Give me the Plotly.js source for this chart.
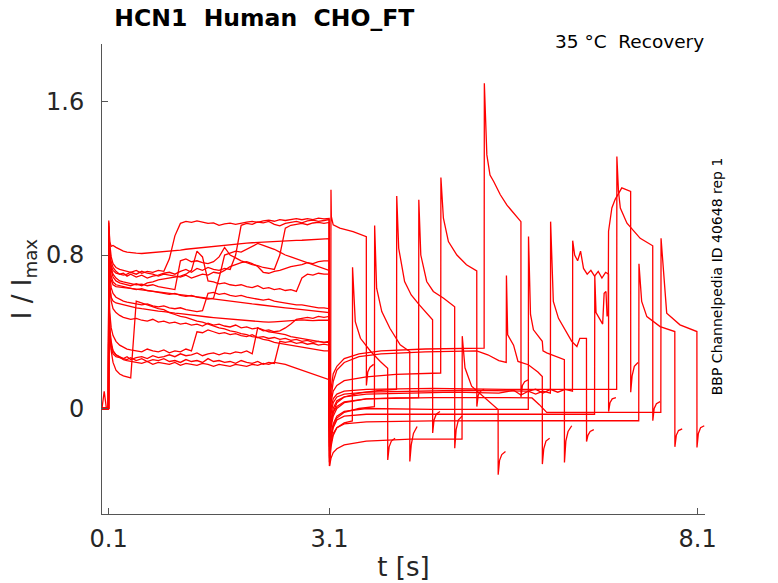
<!DOCTYPE html>
<html>
<head>
<meta charset="utf-8">
<script src="https://cdn.plot.ly/plotly-3.0.1.min.js"></script>
<style>body{margin:0;background:#fff}#plot{width:778px;height:583px}</style>
</head>
<body>
<div id="plot"></div>
<script>
// ---- shared time grid for the first (activation) pulse, seconds ----
const tA = [
 0.01,0.04,0.07,0.098,0.102,0.115,0.135,0.16,0.2,0.25,
 0.3,0.35,0.4,0.475,0.55,0.625,0.7,0.775,0.85,0.925,
 1.0,1.075,1.15,1.225,1.3,1.375,1.45,1.525,1.6,1.675,
 1.75,1.825,1.9,1.975,2.05,2.125,2.2,2.275,2.35,2.425,
 2.5,2.575,2.65,2.725,2.8,2.875,2.95,3.025,3.095];

// ---- normalised current during first pulse, one array per sweep ----
const a0 = [
 0,0,0.005,0,0.97,0.86,0.79,0.755,0.735,0.725,
 0.72,0.715,0.71,0.72,0.705,0.715,0.71,0.72,0.715,0.78,
 0.9,0.965,0.975,0.97,0.978,0.972,0.965,0.968,0.955,0.962,
 0.966,0.96,0.968,0.972,0.975,0.97,0.978,0.982,0.976,0.984,
 0.98,0.986,0.99,0.984,0.99,0.985,0.992,0.988,0.99];
const a1 = [
 0,0,0,0,0.68,0.4,0.33,0.3,0.28,0.265,
 0.255,0.25,0.245,0.24,0.235,0.245,0.23,0.24,0.235,0.23,
 0.24,0.225,0.235,0.23,0.225,0.235,0.23,0.22,0.23,0.225,
 0.22,0.23,0.225,0.22,0.23,0.225,0.235,0.23,0.24,0.235,
 0.23,0.22,0.21,0.2,0.19,0.18,0.17,0.16,0.15];
const a2 = [
 0,0,0,0,0.84,0.72,0.67,0.645,0.635,0.632,
 0.63,0.628,0.625,0.622,0.618,0.615,0.612,0.608,0.605,0.602,
 0.598,0.594,0.59,0.586,0.582,0.578,0.574,0.57,0.566,0.562,
 0.558,0.555,0.552,0.548,0.545,0.542,0.538,0.535,0.532,0.528,
 0.525,0.522,0.519,0.516,0.513,0.51,0.507,0.504,0.5];
const a3 = [
 0,0,0,0,0.95,0.83,0.765,0.735,0.715,0.7,
 0.705,0.69,0.7,0.685,0.695,0.68,0.69,0.695,0.705,0.71,
 0.7,0.715,0.725,0.71,0.73,0.72,0.735,0.725,0.72,0.73,
 0.725,0.8,0.955,0.965,0.96,0.972,0.968,0.975,0.96,0.952,
 0.965,0.97,0.975,0.968,0.978,0.982,0.975,0.98,0.985];
const a4 = [
 0,0,0,0,0.75,0.5,0.42,0.38,0.35,0.33,
 0.32,0.31,0.305,0.3,0.295,0.31,0.3,0.295,0.305,0.29,
 0.3,0.295,0.31,0.3,0.4,0.395,0.41,0.4,0.39,0.395,
 0.385,0.39,0.38,0.375,0.385,0.37,0.375,0.365,0.37,0.36,
 0.365,0.355,0.36,0.35,0.355,0.345,0.35,0.345,0.35];
const a5 = [
 0,0,0,0,0.88,0.78,0.74,0.72,0.705,0.7,
 0.695,0.7,0.71,0.7,0.715,0.705,0.7,0.69,0.7,0.695,
 0.69,0.685,0.695,0.68,0.69,0.7,0.695,0.71,0.705,0.72,
 0.74,0.75,0.76,0.765,0.755,0.74,0.71,0.705,0.715,0.72,
 0.73,0.74,0.745,0.75,0.76,0.755,0.765,0.77,0.77];
const a6 = [
 0,0.09,0,0,0.8,0.65,0.56,0.52,0.5,0.485,
 0.475,0.47,0.465,0.47,0.46,0.455,0.465,0.45,0.455,0.445,
 0.45,0.44,0.445,0.435,0.44,0.43,0.445,0.435,0.44,0.43,
 0.425,0.435,0.42,0.425,0.415,0.42,0.405,0.41,0.4,0.405,
 0.42,0.44,0.465,0.47,0.475,0.47,0.48,0.475,0.48];
const a7 = [
 0,0,0,0,0.98,0.87,0.845,0.85,0.84,0.83,
 0.82,0.815,0.812,0.81,0.808,0.81,0.812,0.815,0.818,0.82,
 0.822,0.826,0.83,0.833,0.836,0.84,0.843,0.846,0.85,0.852,
 0.855,0.857,0.86,0.862,0.864,0.866,0.868,0.869,0.87,0.872,
 0.873,0.874,0.876,0.877,0.878,0.879,0.881,0.883,0.885];
const a8 = [
 0,0,0,0,0.7,0.42,0.35,0.3,0.28,0.27,
 0.26,0.255,0.265,0.25,0.26,0.245,0.255,0.25,0.26,0.245,
 0.25,0.24,0.255,0.245,0.25,0.24,0.26,0.245,0.25,0.24,
 0.245,0.235,0.25,0.24,0.235,0.245,0.23,0.24,0.235,0.35,
 0.345,0.35,0.34,0.345,0.335,0.34,0.33,0.335,0.33];
const a9 = [
 0,0,0,0,0.86,0.75,0.69,0.66,0.645,0.64,
 0.635,0.63,0.625,0.62,0.625,0.615,0.61,0.605,0.6,0.595,
 0.6,0.59,0.585,0.59,0.58,0.575,0.57,0.575,0.68,0.8,
 0.81,0.82,0.815,0.83,0.845,0.86,0.85,0.84,0.83,0.815,
 0.8,0.79,0.78,0.77,0.76,0.75,0.74,0.73,0.72];
const a10 = [
 0,0,0,0,0.78,0.64,0.58,0.56,0.55,0.545,
 0.54,0.535,0.53,0.525,0.52,0.515,0.512,0.508,0.505,0.5,
 0.497,0.494,0.49,0.487,0.484,0.48,0.477,0.474,0.471,0.468,
 0.465,0.462,0.46,0.458,0.456,0.454,0.452,0.45,0.452,0.454,
 0.456,0.458,0.46,0.462,0.46,0.458,0.46,0.462,0.46];
const a11 = [
 0,0,0,0,0.9,0.79,0.73,0.7,0.68,0.665,
 0.66,0.655,0.65,0.645,0.648,0.64,0.645,0.635,0.63,0.625,
 0.62,0.77,0.78,0.765,0.77,0.76,0.755,0.765,0.79,0.84,
 0.8,0.785,0.77,0.76,0.75,0.745,0.735,0.73,0.725,0.8,
 0.94,0.955,0.96,0.965,0.958,0.967,0.97,0.965,0.97];
const a12 = [
 0,0,0,0,0.82,0.7,0.63,0.6,0.58,0.57,
 0.56,0.555,0.55,0.545,0.54,0.545,0.535,0.53,0.535,0.525,
 0.52,0.525,0.515,0.51,0.505,0.51,0.6,0.605,0.595,0.6,
 0.59,0.585,0.59,0.58,0.575,0.57,0.565,0.57,0.56,0.555,
 0.55,0.545,0.54,0.54,0.535,0.53,0.525,0.525,0.52];
const a13 = [
 0,0,0,0,0.92,0.8,0.72,0.685,0.665,0.655,
 0.65,0.645,0.64,0.65,0.64,0.655,0.66,0.67,0.675,0.68,
 0.685,0.69,0.7,0.72,0.82,0.79,0.665,0.66,0.65,0.655,
 0.645,0.64,0.645,0.635,0.63,0.64,0.625,0.63,0.62,0.625,
 0.615,0.62,0.61,0.68,0.7,0.695,0.705,0.7,0.7];
const a14 = [
 0,0,0,0,0.72,0.4,0.3,0.24,0.2,0.18,
 0.17,0.165,0.16,0.56,0.55,0.54,0.53,0.52,0.515,0.5,
 0.49,0.48,0.475,0.465,0.455,0.45,0.44,0.43,0.42,0.415,
 0.405,0.4,0.39,0.385,0.375,0.37,0.36,0.355,0.345,0.34,
 0.335,0.33,0.325,0.32,0.315,0.31,0.305,0.3,0.3];
const a15 = [
 0,0,0,0,0.7,0.38,0.31,0.285,0.27,0.265,
 0.26,0.27,0.255,0.265,0.27,0.26,0.275,0.265,0.27,0.28,
 0.27,0.285,0.275,0.28,0.29,0.275,0.285,0.29,0.28,0.29,
 0.285,0.295,0.29,0.3,0.285,0.42,0.41,0.4,0.395,0.39,
 0.385,0.375,0.37,0.365,0.36,0.355,0.35,0.345,0.345];

// ---- recovery interval, test pulse and tail: times (s) and values ----
const rt0 = [3.1,3.115,3.12,3.125,3.15,3.24,3.42,3.6,3.601,3.62,3.65,3.7];
const ry0 = [-0.1,-0.05,1.14,1.0,0.957,0.94,0.922,0.896,0.12,0.19,0.215,0.23];
const rt1 = [3.1,3.12,3.15,3.2,3.3,3.41,3.413,3.45,3.52,3.66,3.79,3.89,3.891,3.91,3.94,3.99];
const ry1 = [-0.3,-0.2,-0.14,-0.1,-0.075,-0.065,0.736,0.453,0.366,0.297,0.245,0.21,-0.268,-0.2,-0.17,-0.155];
const rt2 = [3.1,3.12,3.15,3.2,3.3,3.5,3.71,3.713,3.74,3.81,3.92,4.06,4.19,4.191,4.21,4.24,4.29];
const ry2 = [-0.25,-0.15,-0.09,-0.05,-0.02,0.0,0.01,0.954,0.627,0.505,0.418,0.332,0.297,-0.276,-0.19,-0.13,-0.094];
const rt3 = [3.1,3.12,3.15,3.2,3.3,3.5,3.8,4.01,4.013,4.04,4.12,4.21,4.32,4.5,4.501,4.52,4.55,4.6];
const ry3 = [-0.2,-0.08,-0.02,0.03,0.06,0.08,0.095,0.1,1.108,0.835,0.662,0.592,0.54,0.462,-0.128,-0.06,-0.03,-0.016];
const rt4 = [3.1,3.12,3.15,3.2,3.3,3.6,4.0,4.31,4.313,4.34,4.42,4.51,4.65,4.8,4.801,4.82,4.85,4.9];
const ry4 = [-0.22,-0.1,-0.04,0.0,0.03,0.05,0.055,0.057,1.088,0.8,0.662,0.61,0.575,0.53,-0.207,-0.11,-0.06,-0.04];
const rt5 = [3.1,3.12,3.15,3.2,3.3,3.6,4.0,4.61,4.613,4.647,4.715,4.83,4.96,5.1,5.101,5.12,5.15,5.2];
const ry5 = [-0.1,0.03,0.09,0.12,0.145,0.165,0.178,0.185,1.204,0.992,0.87,0.8,0.749,0.717,0.01,0.07,0.09,0.1];
const rt6 = [3.1,3.12,3.15,3.2,3.3,3.6,4.2,4.9,4.903,4.94,5.03,5.21,5.39,5.391,5.41,5.44,5.49];
const ry6 = [-0.3,-0.26,-0.23,-0.21,-0.19,-0.17,-0.16,-0.16,0.377,0.212,0.116,0.055,-0.005,-0.345,-0.27,-0.24,-0.224];
const rt7 = [3.1,3.12,3.15,3.2,3.3,3.5,3.8,4.4,5.2,5.203,5.237,5.28,5.33,5.42,5.51,5.67,5.7,5.701,5.72,5.75,5.8];
const ry7 = [-0.05,0.1,0.18,0.22,0.26,0.285,0.3,0.31,0.315,1.695,1.322,1.217,1.183,1.114,1.06,0.983,0.974,0.06,0.12,0.14,0.15];
const rt8 = [3.1,3.12,3.15,3.2,3.3,3.5,3.8,4.4,5.1,5.25,5.4,5.5,5.503,5.52,5.6,5.66,5.8,5.93,5.99,5.991,6.01,6.04,6.09];
const ry8 = [-0.12,0.05,0.14,0.2,0.24,0.27,0.285,0.295,0.3,0.28,0.25,0.24,0.693,0.384,0.33,0.245,0.228,0.19,0.167,-0.29,-0.21,-0.17,-0.155];
const rt9 = [3.1,3.12,3.15,3.2,3.3,3.6,4.5,5.8,5.803,5.83,5.87,5.99,6.0,6.05,6.29,6.291,6.31,6.34,6.39];
const ry9 = [-0.26,-0.14,-0.08,-0.04,-0.015,0.0,-0.005,-0.005,0.896,0.49,0.41,0.35,0.3,0.29,0.254,-0.281,-0.17,-0.12,-0.09];
const rt10 = [3.1,3.12,3.15,3.2,3.3,3.6,4.2,4.8,5.4,5.6,5.7,5.8,5.9,6.0,6.1,6.103,6.14,6.21,6.39,6.46,6.5,6.59,6.591,6.61,6.64,6.69];
const ry10 = [-0.18,-0.06,0.0,0.04,0.06,0.075,0.08,0.085,0.08,0.095,0.07,0.09,0.075,0.09,0.08,0.974,0.558,0.47,0.35,0.323,0.366,0.366,-0.172,-0.14,-0.12,-0.11];
const rt11 = [3.1,3.12,3.15,3.2,3.3,3.6,4.2,5.0,5.8,5.9,6.0,6.1,6.2,6.3,6.4,6.403,6.43,6.47,6.51,6.55,6.6,6.65,6.7,6.75,6.8,6.85,6.89,6.891,6.91,6.94,6.99];
const ry11 = [-0.15,-0.03,0.03,0.06,0.075,0.085,0.09,0.095,0.09,0.1,0.08,0.1,0.085,0.1,0.09,0.875,0.8,0.77,0.82,0.73,0.7,0.72,0.69,0.715,0.68,0.71,0.7,-0.016,0.03,0.05,0.057];
const rt12 = [3.1,3.12,3.15,3.2,3.3,3.6,4.5,5.5,6.7,6.703,6.72,6.81,6.83,6.855,6.87,6.885,6.89,6.935,6.98,7.07,7.13,7.19,7.191,7.21,7.24,7.29];
const ry12 = [-0.28,-0.16,-0.1,-0.06,-0.04,-0.03,-0.03,-0.03,-0.03,0.69,0.5,0.44,0.6,0.61,0.48,0.5,0.924,1.045,1.09,1.15,1.14,1.132,0.085,0.17,0.22,0.24];
const rt13 = [3.1,3.12,3.15,3.2,3.3,3.6,4.5,5.5,6.3,7.0,7.003,7.025,7.05,7.14,7.32,7.49,7.491,7.51,7.54,7.59];
const ry13 = [-0.12,0.0,0.05,0.075,0.09,0.1,0.105,0.1,0.1,0.1,1.313,1.132,1.045,0.966,0.887,0.848,-0.064,0.0,0.025,0.036];
const rt14 = [3.1,3.12,3.15,3.2,3.3,3.6,4.5,5.5,6.5,7.3,7.303,7.34,7.41,7.59,7.79,7.791,7.81,7.84,7.89];
const ry14 = [-0.28,-0.18,-0.13,-0.1,-0.08,-0.07,-0.065,-0.064,-0.064,-0.064,0.754,0.558,0.479,0.427,0.401,-0.2,-0.14,-0.115,-0.106];
const rt15 = [3.1,3.12,3.15,3.2,3.3,3.6,4.5,5.5,5.85,5.95,6.05,6.8,7.6,7.603,7.68,7.86,8.09,8.091,8.11,8.14,8.19];
const ry15 = [-0.2,-0.08,-0.02,0.01,0.035,0.05,0.057,0.057,0.055,0.02,-0.02,-0.02,-0.02,0.887,0.497,0.436,0.401,-0.203,-0.13,-0.1,-0.09];

const xTicks = [0.1, 3.1, 8.1];
const xTickText = ['0.1', '3.1', '8.1'];
const yTicks = [0, 0.8, 1.6];
const yTickText = ['0', '0.8', '1.6'];

const firstPulse = [a0,a1,a2,a3,a4,a5,a6,a7,a8,a9,a10,a11,a12,a13,a14,a15];
const recT = [rt0,rt1,rt2,rt3,rt4,rt5,rt6,rt7,rt8,rt9,rt10,rt11,rt12,rt13,rt14,rt15];
const recY = [ry0,ry1,ry2,ry3,ry4,ry5,ry6,ry7,ry8,ry9,ry10,ry11,ry12,ry13,ry14,ry15];

const traces = firstPulse.map((a, k) => ({
  type: 'scatter', mode: 'lines',
  x: tA.concat(recT[k]), y: a.concat(recY[k]),
  line: {color: '#ff0000', width: 1.3},
  hoverinfo: 'skip', showlegend: false
}));

const FONT = 'DejaVu Sans, Liberation Sans, sans-serif';
const layout = {
  width: 778, height: 583,
  margin: {l: 102, r: 73, t: 44, b: 69},
  paper_bgcolor: '#ffffff', plot_bgcolor: '#ffffff',
  font: {family: FONT, color: '#262626'},
  title: {text: '<b>HCN1\u00a0\u00a0Human\u00a0\u00a0CHO_FT</b>', font: {family: FONT, size: 23.5, color: '#000000'},
          x: 0.147, xanchor: 'left', xref: 'container', y: 0.969, yanchor: 'middle', yref: 'container'},
  xaxis: {range: [0.01, 8.2], tickvals: xTicks, ticktext: xTickText, ticks: 'inside', ticklen: 6,
          tickcolor: '#555', showline: true, linecolor: '#555', linewidth: 1, showgrid: false, zeroline: false,
          tickfont: {family: FONT, size: 24, color: '#262626'}, ticklabelstandoff: 3,
          title: {text: 't [s]', font: {family: FONT, size: 26, color: '#262626'}, standoff: 6}},
  yaxis: {range: [-0.55, 1.9], tickvals: yTicks, ticktext: yTickText, ticks: 'inside', ticklen: 6,
          tickcolor: '#555', showline: true, linecolor: '#555', linewidth: 1, showgrid: false, zeroline: false,
          tickfont: {family: FONT, size: 24, color: '#262626'}, ticklabelstandoff: 12,
          title: {text: 'I / I<sub>max</sub>', font: {family: FONT, size: 26, color: '#262626'}, standoff: 6}},
  annotations: [
    {text: '35 \u00b0C\u00a0\u00a0Recovery', xref: 'paper', yref: 'paper', x: 1.0017, y: 1.006,
     xanchor: 'right', yanchor: 'middle', showarrow: false, font: {family: FONT, size: 18.5, color: '#000000'}},
    {text: 'BBP Channelpedia ID 40648 rep 1', xref: 'paper', yref: 'paper', x: 1.02, y: 0.506,
     xanchor: 'center', yanchor: 'middle', textangle: -90, showarrow: false,
     font: {family: FONT, size: 14, color: '#000000'}}
  ]
};

Plotly.newPlot('plot', traces, layout, {staticPlot: true, displayModeBar: false});
</script>
</body>
</html>
